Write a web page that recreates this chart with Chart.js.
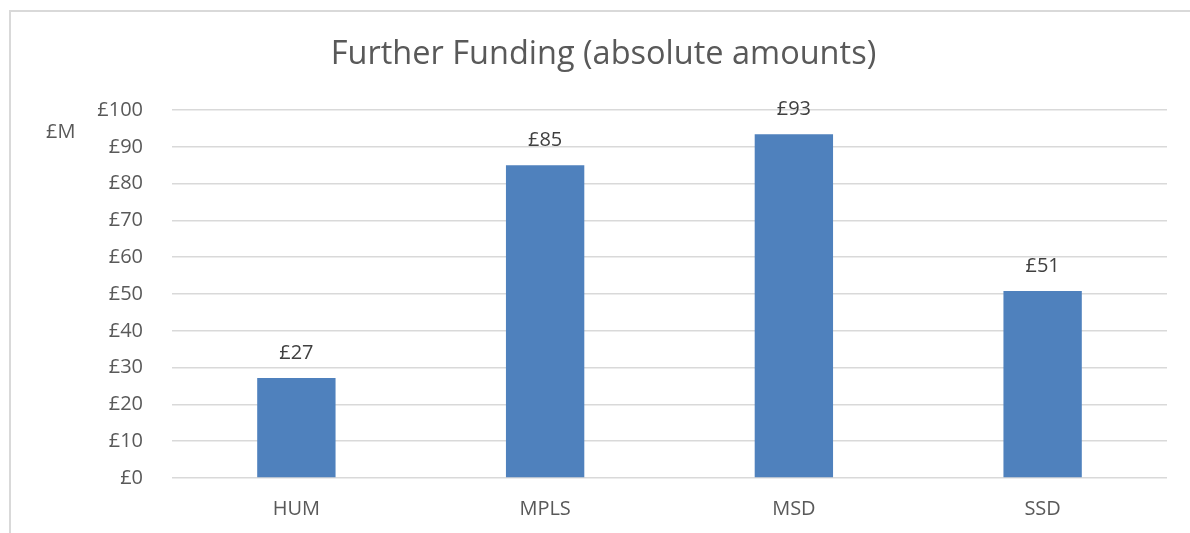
<!DOCTYPE html>
<html>
<head>
<meta charset="utf-8">
<script src="https://cdn.jsdelivr.net/npm/chart.js@4/dist/chart.umd.min.js"></script>
<style>
  body { margin: 0; background: #fff; }
  .frame {
    position: absolute; left: 9px; top: 10px; width: 1300px; height: 700px;
    border-left: 2px solid #d9d9d9; border-top: 2px solid #d9d9d9;
  }
  .root_chart { position: absolute; left: 0; top: 0; width: 1190px; height: 533px; }
</style>
</head>
<body>
<div class="frame"></div>
<div class="root_chart">
  <canvas class="funding_canvas"></canvas>
</div>
<script>
const categories = ["HUM", "MPLS", "MSD", "SSD"];
const furtherFunding = [27.2, 85.0, 93.4, 50.8];
const yTicks = [0, 10, 20, 30, 40, 50, 60, 70, 80, 90, 100];

const fontFamily = "'Open Sans', 'Noto Sans', sans-serif";

// value labels above bars + the "£M" unit text
const labelsPlugin = {
  id: "barLabels",
  afterDatasetsDraw(chart) {
    const ctx = chart.ctx;
    ctx.save();
    ctx.font = "20px " + fontFamily;
    ctx.fillStyle = "#404040";
    ctx.textAlign = "center";
    ctx.textBaseline = "middle";
    chart.getDatasetMeta(0).data.forEach((bar, i) => {
      ctx.fillText("£" + Math.round(furtherFunding[i]), bar.x, bar.y - 25);
    });
    ctx.fillStyle = "#595959";
    ctx.textAlign = "left";
    ctx.fillText("£M", 46, 132);
    ctx.restore();
  }
};

let ctx = document.getElementsByClassName("funding_canvas")[0];
let fundingChart = new Chart(ctx, {
  type: "bar",
  data: {
    labels: categories,
    datasets: [
      {
        data: furtherFunding,
        backgroundColor: "#4f81bd",
        borderWidth: 0,
        categoryPercentage: 1,
        barPercentage: 0.315
      }
    ]
  },
  options: {
    responsive: true,
    maintainAspectRatio: false,
    animation: false,
    devicePixelRatio: 1,
    layout: {
      // left padding keeps the title centred like the original
      padding: { left: 40, right: 23, top: 0, bottom: 0 }
    },
    plugins: {
      legend: { display: false },
      tooltip: { enabled: false },
      title: {
        display: true,
        text: "Further Funding (absolute amounts)",
        color: "#595959",
        font: { family: fontFamily, size: 32.5, weight: "normal" },
        padding: { top: 35, bottom: 36 }
      }
    },
    scales: {
      x: {
        grid: { display: false, drawTicks: false },
        border: { display: false },
        ticks: {
          color: "#595959",
          font: { family: fontFamily, size: 20 },
          padding: 19
        },
        afterFit(scale) { scale.height = 55; }
      },
      y: {
        min: 0,
        max: 100,
        afterBuildTicks(scale) {
          scale.ticks = yTicks.map(v => ({ value: v }));
        },
        grid: { color: "#d9d9d9", lineWidth: 1.5, drawTicks: false },
        border: { display: false },
        ticks: {
          color: "#595959",
          font: { family: fontFamily, size: 20 },
          padding: 29,
          callback: v => "£" + v
        },
        afterFit(scale) { scale.width = 132; }
      }
    }
  },
  plugins: [labelsPlugin]
});
</script>
</body>
</html>
